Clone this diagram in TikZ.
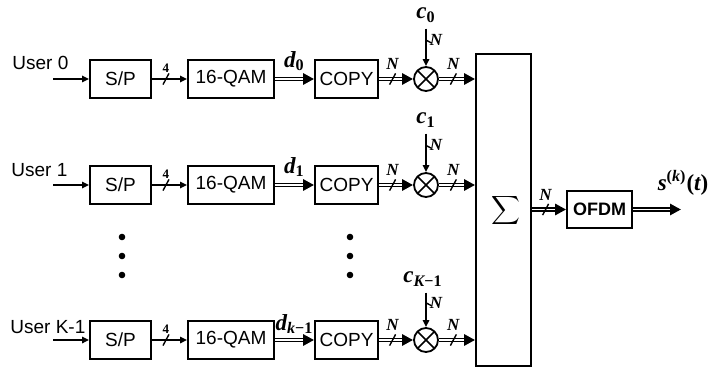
\documentclass[tikz,border=0pt]{standalone}
\usepackage{fontspec}
\setmainfont{Liberation Sans}
\newfontfamily\lblfont{Liberation Serif}
\usetikzlibrary{arrows.meta,decorations.markings}

\newcommand{\mn}{\char"2212\relax}

\tikzset{
blk/.style={
draw,
line width=0.9pt,
minimum height=19pt,
inner sep=0pt,
font=\fontsize{9.5}{11}\selectfont
},
mult/.style={
draw,
circle,
line width=0.9pt,
minimum size=12pt,
inner sep=0pt,
path picture={
\draw[line width=0.8pt]
(path picture bounding box.north west) -- (path picture bounding box.south east)
(path picture bounding box.north east) -- (path picture bounding box.south west);
}
},
sig/.style={line width=0.8pt, -{Triangle[length=3.5pt,width=3.2pt]}},
bus/.style={
line width=2.1pt, -{Triangle[length=5.5pt,width=5.5pt]},
postaction={draw=white, line width=0.7pt, -, shorten >=5.5pt}
},
slash/.style={
postaction={decorate, decoration={markings,
mark=at position 0.4 with {\draw[-, black, line width=0.7pt] (-1.5pt,-2.8pt) -- (1.5pt,2.8pt);}}}
},
lbl/.style={inner sep=0pt, font=\lblfont\bfseries\itshape\fontsize{11.5}{13}\selectfont},
nlbl/.style={inner sep=0pt, font=\lblfont\bfseries\itshape\fontsize{8.5}{9}\selectfont},
user/.style={anchor=west, inner sep=0pt, font=\fontsize{9.5}{11}\selectfont},
dot/.style={circle, fill, inner sep=0pt, minimum size=3.3pt}
}

\begin{document}
\begin{tikzpicture}[x=0.5pt, y=-0.5pt]
\useasboundingbox (0,0) rectangle (711,369);

% user 0
\node[user] (U0) at (12,63) {User 0};
\coordinate (I0) at (53,79);
\node[blk, minimum width=30.5pt] (SP0) at (120.5,79) {S/P};
\node[blk, minimum width=43pt] (QAM0) at (231,79) {16-QAM};
\node[blk, minimum width=31.5pt] (CP0) at (346.5,79) {COPY};
\node[mult] (X0) at (426,79) {};
\node[lbl] (c0) at (426,15) {c\textsubscript{\upshape 0}};

% user 1
\node[user] (U1) at (11,170) {User 1};
\coordinate (I1) at (53,185);
\node[blk, minimum width=30.5pt] (SP1) at (120.5,185) {S/P};
\node[blk, minimum width=43pt] (QAM1) at (231,185) {16-QAM};
\node[blk, minimum width=31.5pt] (CP1) at (346.5,185) {COPY};
\node[mult] (X1) at (426,185) {};
\node[lbl] (c1) at (426,120) {c\textsubscript{\upshape 1}};

% user K-1
\node[user] (U2) at (10,327) {User K-1};
\coordinate (I2) at (53,340);
\node[blk, minimum width=30.5pt] (SP2) at (120.5,340) {S/P};
\node[blk, minimum width=43pt] (QAM2) at (231,340) {16-QAM};
\node[blk, minimum width=31.5pt] (CP2) at (346.5,340) {COPY};
\node[mult] (X2) at (426,340) {};
\node[lbl] (c2) at (423,279) {c\textsubscript{K\upshape\mn1}};

% dots
\node[dot] (va) at (122,237) {};
\node[dot] (vb) at (122,256) {};
\node[dot] (vc) at (122,275) {};
\node[dot] (wa) at (350,237) {};
\node[dot] (wb) at (350,256) {};
\node[dot] (wc) at (350,275) {};

% sum and ofdm
\node[blk, minimum width=27.5pt, minimum height=156pt] (SUM) at (503.5,210)
{\hspace*{2pt}\fontsize{13}{13}\selectfont$\displaystyle\sum$};
\node[blk, minimum width=32.5pt, minimum height=18.5pt, font=\bfseries\fontsize{9}{11}\selectfont] (OFDM) at (599.5,209.5)
{OFDM};
\coordinate (O) at (681,209.5);
\node[lbl] (S) at (683,183)
{s\textsuperscript{\upshape(\itshape k\upshape)}\upshape(\itshape t\upshape)};

% connectors
\draw[sig] (I0) -- (SP0);
\draw[sig, slash] (SP0) -- node[pos=0.4, above=3pt, nlbl, font=\lblfont\bfseries\fontsize{6.5}{7}\selectfont] {4} (QAM0);
\draw[bus] (QAM0) -- node[midway, above=3pt, lbl] {d\textsubscript{\upshape 0}} (CP0);
\draw[bus, slash] (CP0) -- node[pos=0.4, above=3.5pt, nlbl] {N} (X0);
\draw[sig, slash, shorten <=3pt] (c0.south -| X0) -- node[pos=0.4, right=1.5pt, nlbl] {N} (X0);
\draw[bus, slash] (X0) -- node[pos=0.4, above=3.5pt, nlbl] {N} (X0 -| SUM.west);

\draw[sig] (I1) -- (SP1);
\draw[sig, slash] (SP1) -- node[pos=0.4, above=3pt, nlbl, font=\lblfont\bfseries\fontsize{6.5}{7}\selectfont] {4} (QAM1);
\draw[bus] (QAM1) -- node[midway, above=3pt, lbl] {d\textsubscript{\upshape 1}} (CP1);
\draw[bus, slash] (CP1) -- node[pos=0.4, above=3.5pt, nlbl] {N} (X1);
\draw[sig, slash, shorten <=3pt] (c1.south -| X1) -- node[pos=0.4, right=1.5pt, nlbl] {N} (X1);
\draw[bus, slash] (X1) -- node[pos=0.4, above=3.5pt, nlbl] {N} (X1 -| SUM.west);

\draw[sig] (I2) -- (SP2);
\draw[sig, slash] (SP2) -- node[pos=0.4, above=3pt, nlbl, font=\lblfont\bfseries\fontsize{6.5}{7}\selectfont] {4} (QAM2);
\draw[bus] (QAM2) -- node[midway, above=2pt, lbl] {d\textsubscript{k\upshape\mn1}} (CP2);
\draw[bus, slash] (CP2) -- node[pos=0.4, above=3.5pt, nlbl] {N} (X2);
\draw[sig, slash, shorten <=3pt] (c2.south -| X2) -- node[pos=0.4, right=1.5pt, nlbl] {N} (X2);
\draw[bus, slash] (X2) -- node[pos=0.4, above=3.5pt, nlbl] {N} (X2 -| SUM.west);

\draw[bus, slash] (SUM.east |- OFDM) -- node[pos=0.4, above=3.5pt, nlbl] {N} (OFDM);
\draw[bus] (OFDM) -- (O);

\end{tikzpicture}
\end{document}
